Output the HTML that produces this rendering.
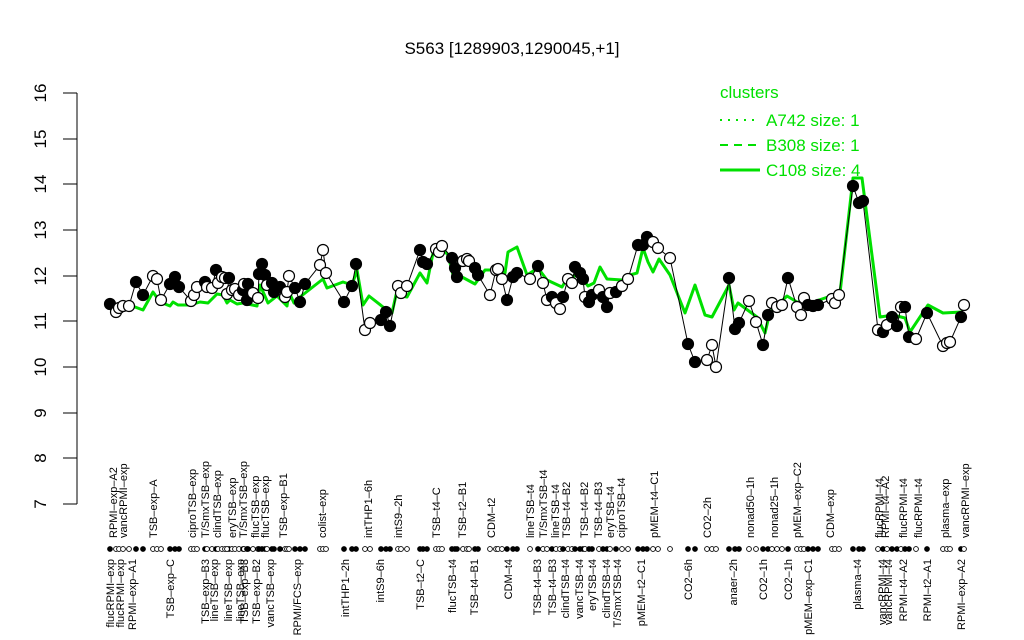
<!DOCTYPE html>
<html><head><meta charset="utf-8"><style>
html,body{margin:0;padding:0;background:#fff}
svg{display:block}
text{font-family:"Liberation Sans",Arial,sans-serif}
.xl{font-size:11px}
</style></head><body>
<svg id="s" width="1024" height="640" viewBox="0 0 1024 640" xmlns="http://www.w3.org/2000/svg">
<rect width="1024" height="640" fill="#fff"/>
<text x="512" y="54" font-size="17" text-anchor="middle">S563 [1289903,1290045,+1]</text>
<g stroke="#000" stroke-width="1" fill="none">
<line x1="77" y1="93" x2="77" y2="504"/>
<line x1="63" y1="93" x2="77" y2="93"/><line x1="63" y1="139" x2="77" y2="139"/>
<line x1="63" y1="184" x2="77" y2="184"/><line x1="63" y1="230" x2="77" y2="230"/>
<line x1="63" y1="276" x2="77" y2="276"/><line x1="63" y1="321" x2="77" y2="321"/>
<line x1="63" y1="367" x2="77" y2="367"/><line x1="63" y1="413" x2="77" y2="413"/>
<line x1="63" y1="458" x2="77" y2="458"/><line x1="63" y1="504" x2="77" y2="504"/>
</g>
<g font-size="17" text-anchor="middle">
<text transform="translate(46,93) rotate(-90)">16</text>
<text transform="translate(46,139) rotate(-90)">15</text>
<text transform="translate(46,184) rotate(-90)">14</text>
<text transform="translate(46,230) rotate(-90)">13</text>
<text transform="translate(46,276) rotate(-90)">12</text>
<text transform="translate(46,321) rotate(-90)">11</text>
<text transform="translate(46,367) rotate(-90)">10</text>
<text transform="translate(46,413) rotate(-90)">9</text>
<text transform="translate(46,458) rotate(-90)">8</text>
<text transform="translate(46,504) rotate(-90)">7</text>
</g>
<g fill="#00e000" font-size="17">
<text x="720" y="98">clusters</text>
<text x="766" y="126">A742 size: 1</text>
<text x="766" y="151">B308 size: 1</text>
<text x="766" y="176">C108 size: 4</text>
</g>
<g stroke="#00e000" stroke-width="2">
<line x1="720" y1="120" x2="760" y2="120" stroke-dasharray="2,6"/>
<line x1="720" y1="145" x2="760" y2="145" stroke-dasharray="8,6"/>
<line x1="720" y1="170" x2="760" y2="170" stroke-width="3"/>
</g>
<g id="upper" class="xl"></g>
<g id="lower" class="xl"></g>
<g id="plot"></g>
</svg>
<script>
var NS="http://www.w3.org/2000/svg";
function el(t,a,p){var e=document.createElementNS(NS,t);for(var k in a)e.setAttribute(k,a[k]);(p||document.getElementById('plot')).appendChild(e);return e;}
var P=[[110,304,1],[116,312,0],[119,308,0],[123,306,0],[129,306,0],[136,282,1],[143,295,1],[153,276,0],[157,279,0],[161,300,0],[170,284,1],[175,277,1],[179,287,1],[191,301,0],[194,295,0],[197,287,0],[205,282,1],[207,287,0],[212,288,0],[216,270,1],[218,283,0],[222,277,0],[225,278,0],[229,278,1],[227,294,0],[232,290,0],[235,289,0],[239,295,0],[243,290,1],[244,284,0],[248,284,1],[247,300,1],[253,293,0],[258,298,0],[259,274,1],[262,264,1],[265,275,1],[267,285,0],[272,283,1],[274,292,1],[280,287,1],[285,297,0],[287,292,0],[289,276,0],[295,288,1],[300,302,1],[305,284,1],[320,265,0],[323,250,0],[326,273,0],[344,302,1],[352,286,1],[356,264,1],[365,330,0],[370,323,0],[381,320,1],[386,312,1],[390,326,1],[398,286,0],[401,293,0],[407,286,0],[420,250,1],[423,262,1],[427,264,1],[436,249,0],[439,252,0],[442,246,0],[452,258,1],[455,268,1],[457,277,1],[463,261,0],[467,259,0],[469,261,0],[475,268,1],[478,275,1],[490,295,0],[496,270,0],[498,269,0],[502,279,0],[507,300,1],[513,277,1],[517,273,1],[530,279,0],[538,266,1],[543,283,0],[547,300,0],[552,297,1],[556,303,0],[560,309,0],[563,297,1],[568,279,0],[572,283,0],[575,267,1],[580,273,1],[583,279,1],[585,297,0],[589,302,1],[592,295,1],[599,290,0],[603,297,1],[607,307,1],[610,293,0],[616,292,1],[622,286,0],[628,279,0],[638,245,1],[643,245,1],[647,237,1],[653,242,0],[658,248,0],[670,258,0],[688,344,1],[695,362,1],[707,360,0],[712,345,0],[716,367,0],[729,278,1],[735,329,1],[739,323,1],[749,301,0],[756,322,0],[763,345,1],[768,315,1],[772,303,0],[777,307,0],[782,305,0],[788,278,1],[797,307,0],[801,315,0],[804,298,0],[808,305,1],[813,306,1],[818,305,1],[832,299,0],[835,303,0],[839,295,0],[853,186,1],[859,203,1],[863,201,1],[878,330,0],[883,332,1],[887,325,0],[892,317,1],[897,326,1],[901,307,0],[905,307,1],[909,337,1],[916,339,0],[927,313,1],[943,346,0],[947,343,0],[950,342,0],[961,317,1],[964,305,0]];
var G=[[110,309],[123,309],[135,307],[143,310],[153,292],[160,302],[170,306],[173,302],[178,305],[190,305],[200,302],[208,303],[217,294],[223,295],[227,303],[230,300],[237,304],[243,303],[257,306],[260,285],[268,303],[277,296],[287,306],[289,292],[294,303],[300,297],[323,279],[327,288],[343,282],[352,285],[357,270],[363,305],[369,296],[383,307],[392,313],[396,295],[407,297],[420,273],[427,283],[433,253],[442,248],[448,255],[453,275],[462,277],[475,284],[485,270],[493,270],[505,273],[508,252],[517,247],[527,275],[538,268],[547,280],[562,287],[568,277],[580,275],[588,286],[594,283],[600,267],[607,279],[622,280],[630,275],[637,273],[643,248],[648,262],[653,272],[659,259],[670,275],[685,313],[695,285],[705,315],[712,317],[729,285],[734,310],[738,303],[757,317],[765,333],[770,312],[787,296],[797,302],[810,303],[840,293],[853,178],[862,178],[880,317],[893,315],[905,318],[910,332],[928,305],[943,313],[962,312]];
el('polyline',{points:G.map(function(p){return p.join(',')}).join(' '),fill:'none',stroke:'#00e000','stroke-width':3,'stroke-linejoin':'round'});
el('polyline',{points:P.map(function(p){return p[0]+','+p[1]}).join(' '),fill:'none',stroke:'#000','stroke-width':1});
P.forEach(function(p){
 el('circle',{cx:p[0],cy:p[1],r:5.5,fill:p[2]?'#000':'#fff',stroke:'#000','stroke-width':1.2});
 el('circle',{cx:p[0],cy:549,r:2.4,fill:p[2]?'#000':'#fff',stroke:'#000','stroke-width':0.9});
});
</script>
<svg width="0" height="0"></svg>
<script>
var U=[[113,"RPMI\u2013exp\u2013A2"],[123,"vancRPMI\u2013exp"],[153,"TSB\u2013exp\u2013A"],[192,"ciproTSB\u2013exp"],[205,"T/SmxTSB\u2013exp"],[217,"clindTSB\u2013exp"],[232,"eryTSB\u2013exp"],[243,"T/SmxTSB\u2013exp"],[255,"flucTSB\u2013exp"],[265,"flucTSB\u2013exp"],[283,"TSB\u2013exp\u2013B1"],[322,"colist\u2013exp"],[368,"intTHP1\u20136h"],[398,"intS9\u20132h"],[436,"TSB\u2013t4\u2013C"],[462,"TSB\u2013t2\u2013B1"],[491,"CDM\u2013t2"],[530,"lineTSB\u2013t4"],[543,"T/SmxTSB\u2013t4"],[555,"lineTSB\u2013t4"],[566,"TSB\u2013t4\u2013B2"],[584,"TSB\u2013t4\u2013B2"],[598,"TSB\u2013t4\u2013B3"],[610,"eryTSB\u2013t4"],[621,"ciproTSB\u2013t4"],[654,"pMEM\u2013t4\u2013C1"],[707,"CO2\u20132h"],[750,"nonad50\u20131h"],[774,"nonad25\u20131h"],[797,"pMEM\u2013exp\u2013C2"],[830,"CDM\u2013exp"],[879,"flucRPMI\u2013t4"],[885,"RPMI\u2013t4\u2013A2"],[903,"flucRPMI\u2013t4"],[918,"flucRPMI\u2013t4"],[945,"plasma\u2013exp"],[965,"vancRPMI\u2013exp"]];
var L=[[110,"flucRPMI\u2013exp"],[120,"flucRPMI\u2013exp"],[132,"RPMI\u2013exp\u2013A1"],[170,"TSB\u2013exp\u2013C"],[205,"TSB\u2013exp\u2013B3"],[214,"lineTSB\u2013exp"],[228,"lineTSB\u2013exp"],[240,"lineTSB\u2013exp"],[244,"TSB\u2013exp\u2013B3"],[256,"TSB\u2013exp\u2013B2"],[270,"vancTSB\u2013exp"],[297,"RPMI/FCS\u2013exp"],[345,"intTHP1\u20132h"],[380,"intS9\u20136h"],[420,"TSB\u2013t2\u2013C"],[452,"flucTSB\u2013t4"],[474,"TSB\u2013t4\u2013B1"],[508,"CDM\u2013t4"],[537,"TSB\u2013t4\u2013B3"],[552,"TSB\u2013t4\u2013B3"],[565,"clindTSB\u2013t4"],[579,"vancTSB\u2013t4"],[592,"eryTSB\u2013t4"],[606,"clindTSB\u2013t4"],[617,"T/SmxTSB\u2013t4"],[641,"pMEM\u2013t2\u2013C1"],[688,"CO2\u20136h"],[733,"anaer\u20132h"],[763,"CO2\u20131h"],[788,"CO2\u20131h"],[808,"pMEM\u2013exp\u2013C1"],[857,"plasma\u2013t4"],[882,"vancRPMI\u2013t4"],[888,"vancRPMI\u2013t4"],[903,"RPMI\u2013t4\u2013A2"],[927,"RPMI\u2013t2\u2013A1"],[961,"RPMI\u2013exp\u2013A2"]];
U.forEach(function(u){var t=el('text',{transform:'translate('+(u[0]+4)+',538) rotate(-90)','text-anchor':'start'},document.getElementById('upper'));t.textContent=u[1];});
L.forEach(function(u){var t=el('text',{transform:'translate('+(u[0]+4)+',559) rotate(-90)','text-anchor':'end'},document.getElementById('lower'));t.textContent=u[1];});
</script>
</body></html>
